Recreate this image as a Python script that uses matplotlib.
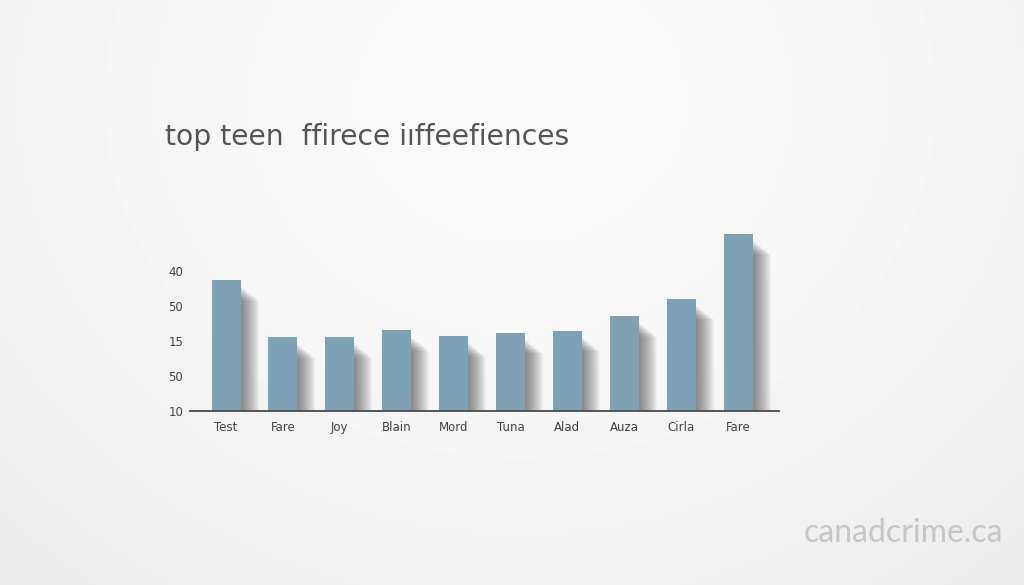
import numpy as np
import matplotlib
matplotlib.use("Agg")
import matplotlib.pyplot as plt
from matplotlib.patches import Rectangle

# data (bar heights in tick-spacing units above the baseline)
categories = ["Test", "Fare", "Joy", "Blain", "Mord", "Tuna", "Alad", "Auza", "Cirla", "Fare"]
values = [3.74, 2.11, 2.11, 2.31, 2.14, 2.23, 2.29, 2.71, 3.20, 5.06]
tick_pos = [0, 1, 2, 3, 4]
tick_labels = ["10", "50", "15", "50", "40"]

TITLE = "top teen  ffirece iıffeefiences"
WATERMARK = "canadcrime.ca"

BAR = "#7fa1b5"
AXIS = "#4a4a4a"
TEXT = "#444444"

W, H = 1024, 585
fig = plt.figure(figsize=(W / 100, H / 100), dpi=100)

# soft radial background, almost white near the top centre
bg = fig.add_axes([0, 0, 1, 1])
yy, xx = np.mgrid[0:H, 0:W]
r = np.sqrt(((xx - 520) / 650.0) ** 2 + ((yy - 100) / 560.0) ** 2)
shade = np.clip(0.985 - 0.05 * r ** 1.3, 0, 1)
bg.imshow(shade, cmap="gray", vmin=0, vmax=1, extent=[0, W, H, 0], aspect="auto")
bg.axis("off")

# chart axes: baseline at y=411, x from 190 to 779
left, right = 190 / W, 779 / W
bottom = (H - 411) / H
top_px = 220
ax = fig.add_axes([left, bottom, right - left, (411 - top_px) / H])
ax.patch.set_alpha(0)

spacing_px = (738 - 226) / 9
n = len(categories)
x = np.arange(n)
width = 29 / spacing_px
px = 1 / spacing_px
py = 1 / 35.0

# soft drop shadows to the right of each bar
for xi, v in zip(x, values):
    for k in range(1, 19):
        ax.add_patch(Rectangle((xi - width / 2 + k * px, 0), width,
                               max(v - (6 + k * 0.8) * py, 0),
                               facecolor="#303030", edgecolor="none",
                               alpha=0.04, zorder=1))

ax.bar(x, values, width=width, color=BAR, zorder=2)

ax.set_xlim(-36 / spacing_px, 9 + 41 / spacing_px)
ax.set_ylim(0, (411 - top_px) / 35.0)

ax.set_xticks(x)
ax.set_xticklabels(categories, fontsize=8.5, color=TEXT, family="DejaVu Sans")
ax.set_yticks(tick_pos)
ax.set_yticklabels(tick_labels, fontsize=8.5, color=TEXT, family="DejaVu Sans")
ax.tick_params(axis="both", length=0)
ax.tick_params(axis="x", pad=7)
ax.tick_params(axis="y", pad=5)
for s in ["top", "right", "left"]:
    ax.spines[s].set_visible(False)
ax.spines["bottom"].set_color(AXIS)
ax.spines["bottom"].set_linewidth(1.3)
ax.spines["bottom"].set_zorder(3)

fig.text(165 / W, 1 - 137 / H, TITLE, fontsize=20.3, color="#555555",
         family="DejaVu Sans", ha="left", va="center")
fig.text(1003 / W, 1 - 533 / H, WATERMARK, fontsize=23, color="#c6c6c6",
         family="Lato", ha="right", va="center")

fig.savefig("out.png", dpi=100)
